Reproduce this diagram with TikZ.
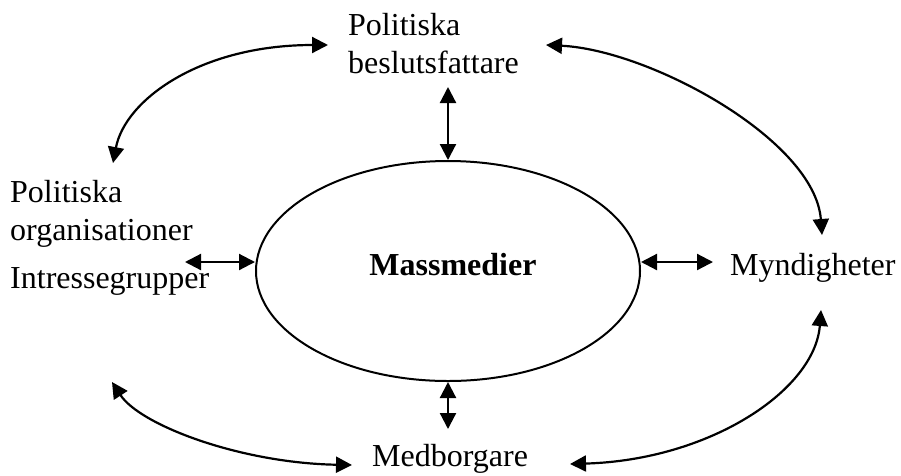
\documentclass[tikz,border=0pt]{standalone}
\usepackage{fontspec}
\setmainfont{Liberation Serif}
\usepackage{tikz}
\usetikzlibrary{arrows.meta}
\usetikzlibrary{shapes.geometric}

\begin{document}
\begin{tikzpicture}[x=1pt,y=-1pt,
  every node/.style={font=\fontsize{32}{38}\selectfont},
  lbl/.style={anchor=base west,inner sep=0pt,align=left},
  link/.style={line width=2.2pt,{Triangle[length=16pt,width=16pt]}-{Triangle[length=16pt,width=16pt]}}]

\useasboundingbox (0,0) rectangle (901,475);

% the centre
\node [draw,ellipse,line width=2pt,minimum width=384,minimum height=220] (mm) at (448,271) {};
\node [anchor=base,inner sep=0pt,font=\fontsize{32}{38}\selectfont\bfseries] (mmtext) at (453,275) {Massmedier};

% the actors round it (base = last line)
\node [lbl] (beslut) at (348,73) {Politiska\\beslutsfattare};
\node [lbl] (org) at (10,240) {Politiska\\organisationer};
\node [lbl] (intresse) at (10,288) {Intressegrupper};
\node [lbl] (myndig) at (730,275) {Myndigheter};
\node [lbl] (medborg) at (372,466) {Medborgare};

% free ends of the arrows
\coordinate (topend) at (448,87);
\coordinate (botend) at (448,429);
\coordinate (leftend) at (185,262);
\coordinate (rightend) at (713,262);
\coordinate (tlA) at (113,163);
\coordinate (tlB) at (328,45);
\coordinate (trA) at (546,45);
\coordinate (trB) at (822,235);
\coordinate (brA) at (821,310);
\coordinate (brB) at (570,464);
\coordinate (blA) at (112,382);
\coordinate (blB) at (352,465);

\draw [link](mm.north)--(topend);
\draw [link](mm.south)--(botend);
\draw [link](leftend -| mm.west)--(leftend);
\draw [link](rightend -| mm.east)--(rightend);

\draw [link](tlA) .. controls (125,100) and (200,45) .. (tlB);
\draw [link](trA) .. controls (650,50) and (815,140) .. (trB);
\draw [link](brA) .. controls (815,390) and (710,460) .. (brB);
\draw [link](blA) .. controls (140,425) and (240,463) .. (blB);

\end{tikzpicture}
\end{document}
